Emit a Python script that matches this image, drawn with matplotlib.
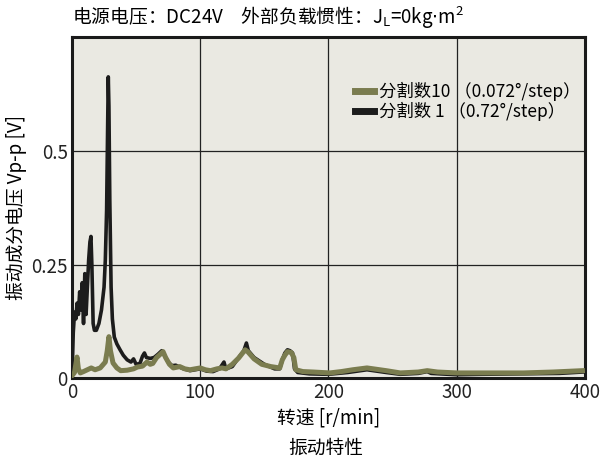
import matplotlib.pyplot as plt

plt.rcParams['font.family'] = ['Noto Sans CJK SC', 'DejaVu Sans']

# 分割数 1 (0.72°/step) - black
rpm_1 = [0, 1, 2, 3, 4, 5, 6, 7, 8, 9, 10, 11, 12, 13, 14, 14.8, 15.5, 16.5, 17.5, 19,
         21, 23, 25, 26, 27, 28, 28.3, 28.8, 29.5, 30.5, 31.5, 33, 35, 37.5, 40, 43, 46,
         48, 50, 53, 55, 56.5, 58, 61, 64, 67, 70, 72, 75, 78, 81, 83, 87, 92, 100, 105,
         110, 115, 118.5, 120, 125, 130, 134, 136, 137.5, 142, 150, 158, 162, 164, 166,
         168, 170, 172, 173.5, 176, 185, 200, 215, 230, 245, 256, 270, 277, 280, 300,
         320, 350, 380, 398]
vpp_1 = [0.0, 0.10, 0.145, 0.13, 0.165, 0.14, 0.19, 0.15, 0.21, 0.12, 0.23, 0.14, 0.20,
         0.26, 0.30, 0.312, 0.25, 0.12, 0.105, 0.105, 0.12, 0.15, 0.20, 0.26, 0.37, 0.60,
         0.664, 0.60, 0.39, 0.20, 0.13, 0.09, 0.075, 0.062, 0.05, 0.04, 0.035, 0.042, 0.03,
         0.032, 0.048, 0.055, 0.045, 0.043, 0.045, 0.052, 0.06, 0.05, 0.035, 0.027, 0.028,
         0.025, 0.02, 0.016, 0.02, 0.015, 0.014, 0.02, 0.035, 0.02, 0.025, 0.045, 0.06,
         0.077, 0.06, 0.045, 0.03, 0.02, 0.02, 0.04, 0.055, 0.062, 0.06, 0.055, 0.02,
         0.012, 0.009, 0.008, 0.012, 0.018, 0.012, 0.008, 0.01, 0.014, 0.01, 0.007,
         0.008, 0.009, 0.01, 0.013]

# 分割数10 (0.072°/step) - olive
rpm_10 = [0, 2, 3.9, 5, 6.5, 9, 12, 15, 18, 22, 26, 27.5, 28.8, 30, 32, 35, 38, 43, 48,
          51, 55, 58.5, 61, 63, 66, 68, 71, 73, 76, 79, 84, 88, 92, 100, 104, 108, 113,
          117, 120, 125, 130, 135, 137, 142, 148, 155, 162, 164, 166, 168, 171, 173,
          174.5, 180, 188, 201, 210, 219, 230, 245, 256, 270, 277, 285, 300, 330, 352,
          375, 398]
vpp_10 = [0.005, 0.012, 0.046, 0.02, 0.011, 0.014, 0.018, 0.022, 0.018, 0.022, 0.035,
          0.06, 0.091, 0.06, 0.033, 0.022, 0.016, 0.017, 0.02, 0.024, 0.026, 0.035, 0.03,
          0.032, 0.045, 0.05, 0.058, 0.045, 0.03, 0.022, 0.025, 0.02, 0.018, 0.022, 0.018,
          0.016, 0.02, 0.022, 0.02, 0.03, 0.044, 0.062, 0.058, 0.042, 0.03, 0.025, 0.022,
          0.04, 0.05, 0.058, 0.056, 0.045, 0.018, 0.014, 0.013, 0.011, 0.014, 0.018,
          0.022, 0.016, 0.011, 0.013, 0.016, 0.013, 0.011, 0.011, 0.011, 0.013, 0.016]

olive = '#7a7c4f'
black = '#1c1c1c'

fig = plt.figure(figsize=(6.1, 4.62), dpi=100)
ax = fig.add_axes([0.118, 0.182, 0.841, 0.738])
ax.set_facecolor('#eae9e2')

ax.plot(rpm_1, vpp_1, color=black, lw=2.6, zorder=3, label='分割数 1 （0.72°/step）')
ax.plot(rpm_10, vpp_10, color=olive, lw=3.6, zorder=4, label='分割数10 （0.072°/step）')

ax.set_xlim(0, 400)
ax.set_ylim(0, 0.752)
ax.set_xticks([0, 100, 200, 300, 400])
ax.set_yticks([0, 0.25, 0.5])
ax.set_yticklabels(['0', '0.25', '0.5'])
ax.tick_params(length=0, labelsize=13.5, colors='#222222', pad=3)
ax.grid(True, color='#222222', lw=0.9)
ax.set_axisbelow(True)
for s in ax.spines.values():
    s.set_linewidth(2.2)
    s.set_color('#1a1a1a')

handles, labels = ax.get_legend_handles_labels()
leg = ax.legend(handles[::-1], labels[::-1], loc='upper right', bbox_to_anchor=(1.012, 0.9),
                frameon=False, fontsize=12.5, handlelength=1.1, handletextpad=0.3,
                labelspacing=0.05, borderaxespad=0.2)
for h in leg.get_lines():
    h.set_linewidth(5)

fig.text(0.118, 0.962, '电源电压：DC24V　外部负载惯性：J$_\\mathregular{L}$=0kg$\\cdot$m$^\\mathregular{2}$',
         fontsize=13.5, va='center', ha='left')
ax.set_xlabel('转速 [r/min]', fontsize=13.5, labelpad=3)
ax.set_ylabel('振动成分电压 Vp-p [V]', fontsize=13.5)
ax.yaxis.set_label_coords(-0.088, 0.5)
fig.text(0.534, 0.03, '振动特性', fontsize=13.5, ha='center', va='center')

fig.savefig('out.png', dpi=100)
